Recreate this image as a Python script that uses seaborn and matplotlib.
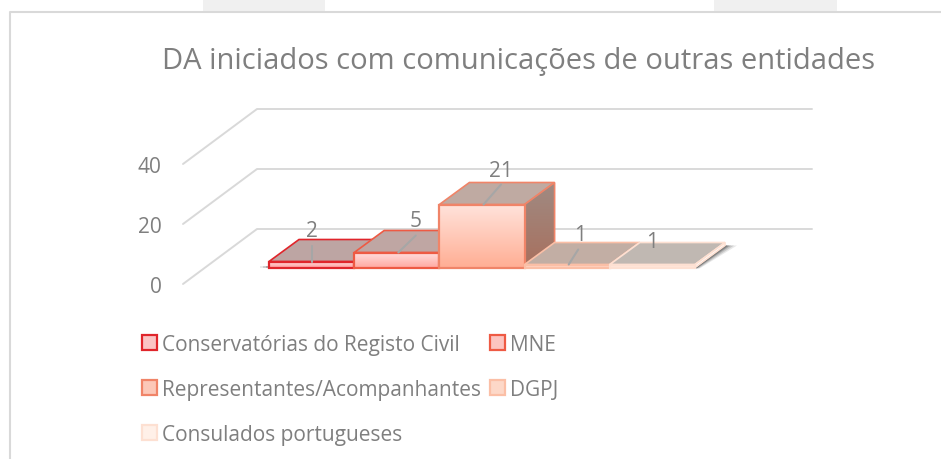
import matplotlib
matplotlib.use("Agg")
import matplotlib.pyplot as plt
import numpy as np
import pandas as pd
import seaborn as sns
from matplotlib.colors import LinearSegmentedColormap
from matplotlib.lines import Line2D
from matplotlib.patches import Patch, Polygon, Rectangle
from matplotlib.transforms import Affine2D

categories = ["Conservatórias do Registo Civil", "MNE", "Representantes/Acompanhantes", "DGPJ", "Consulados portugueses"]
values = [2, 5, 21, 1, 1]
y_ticks = [0, 20, 40]
title = "DA iniciados com comunicações de outras entidades"

W, H = 941, 460
GREY = "#7f7f7f"

# estilo de cada barra
edge_colors = ["#e0252b", "#ee5a44", "#f08468", "#fbbfa6", "#fde0d2"]
front_top = ["#ffd8d8", "#ffdcdc", "#ffe2da", "#ffe6dc", "#fff0e8"]
front_bottom = ["#ff9a9a", "#ffa8a0", "#ffae94", "#ffc0a8", "#ffdccc"]
top_colors = ["#bda5a3", "#bfa6a3", "#bfaaa2", "#c2aea4", "#c0b8b2"]
side_top = ["#a48c8a", "#a48c8a", "#a08a82", "#a89488", "#b8a89e"]
side_bottom = ["#a8645c", "#a8685c", "#a8705e", "#b08a78", "#c8a898"]
legend_fill = ["#fbc4c4", "#fcc4c0", "#fcc8b8", "#fdd8c8", "#fff0e8"]

# deslocamento dos rótulos e das linhas de ligação, em pixels
label_dx = [0, 18.5, 18.5, 12.5, 0]
label_dy = [31, 32, 34, 30, 23]
leader_start = [(0, 0), (1.5, 0), (1.5, 0), (1.5, 0), None]
leader_end = [(0, 16), (19, 17), (19, 20), (11, 15), None]

sns.set_style("white")
plt.rcParams["font.family"] = ["Open Sans", "DejaVu Sans"]

fig = plt.figure(figsize=(W / 100, H / 100), dpi=100)


def pixel_axes(x0, x1, y_bottom, y_top):
    return fig.add_axes([x0 / W, 1 - y_bottom / H, (x1 - x0) / W, (y_bottom - y_top) / H])


# moldura e separadores cinzentos
for tab_x0, tab_x1 in [(203, 325), (714, 837)]:
    fig.add_artist(Rectangle((tab_x0 / W, 1 - 12 / H), (tab_x1 - tab_x0) / W, 12 / H,
                             transform=fig.transFigure, color="#f0f0f0", lw=0))
fig.add_artist(Line2D([9.5 / W, 9.5 / W, 1], [0, 1 - 13 / H, 1 - 13 / H],
                      transform=fig.transFigure, color="#d9d9d9", lw=1.5))

fig.text(518 / W, 1 - 61 / H, title, ha="center", va="center", color=GREY, fontsize=21)

# eixo com a grelha em perspetiva (3 px por unidade)
wall_rise = 55 / 3
ax_wall = pixel_axes(183, 812, 285, 105)
ax_wall.set_xlim(183, 812)
ax_wall.set_ylim(0, 60)
ax_wall.patch.set_alpha(0)
sns.despine(ax=ax_wall, left=True, bottom=True)
for t in y_ticks:
    ax_wall.plot([183, 257, 812], [t, t + wall_rise, t + wall_rise], color="#d9d9d9", lw=1.4, clip_on=False)
ax_wall.set_xticks([])
ax_wall.set_yticks(y_ticks)
ax_wall.tick_params(axis="y", length=0, pad=15.5, labelsize=15, labelcolor=GREY)

# barras
ax = pixel_axes(269, 695, 268.5, 148.5)
df = pd.DataFrame({"categoria": categories, "valor": values})
sns.barplot(data=df, x="categoria", y="valor", hue="categoria", palette=edge_colors,
            width=1, gap=0, legend=False, ax=ax)
ax.set_xlim(-0.5, 4.5)
ax.set_ylim(0, 40)
ax.patch.set_alpha(0)
ax.axis("off")

px_x = 426 / 5
depth_x = 30 / px_x
depth_y = 22 / 3
bars = list(ax.patches)[:len(values)]

# sombra no chão
x_end = bars[-1].get_x() + bars[-1].get_width()
for grow, alpha in zip([12, 9, 6, 4, 2], [0.12, 0.18, 0.24, 0.32, 0.42]):
    ax.add_patch(Polygon([(x_end, -0.3), (x_end + grow * 0.4 / px_x, -0.3),
                          (x_end + depth_x + grow / px_x, depth_y), (x_end + depth_x, depth_y)],
                         closed=True, color="#404040", alpha=alpha, lw=0, zorder=0.5, clip_on=False))
x_start = bars[0].get_x()
for grow, alpha in zip([9, 6, 3], [0.12, 0.2, 0.3]):
    ax.add_patch(Rectangle((x_start - grow / px_x, -0.2), grow / px_x, 0.7, color="#606060", alpha=alpha,
                           lw=0, zorder=0.5, clip_on=False))

for i, bar in enumerate(bars):
    x0 = bar.get_x()
    x1 = x0 + bar.get_width()
    h = bar.get_height()
    z = 2 + i * 0.1

    # face superior e face lateral
    ax.add_patch(Polygon([(x0, h), (x1, h), (x1 + depth_x, h + depth_y), (x0 + depth_x, h + depth_y)],
                         closed=True, facecolor=top_colors[i], edgecolor=edge_colors[i], lw=1.2, zorder=z, clip_on=False))
    side = Polygon([(x1, 0), (x1 + depth_x, depth_y), (x1 + depth_x, h + depth_y), (x1, h)],
                   closed=True, facecolor="none", edgecolor=edge_colors[i], lw=1.2, zorder=z + 0.02, clip_on=False)
    ax.add_patch(side)
    cmap_side = LinearSegmentedColormap.from_list("side", [side_bottom[i], side_top[i]])
    img = ax.imshow(np.linspace(0, 1, 64).reshape(-1, 1), cmap=cmap_side, origin="lower", aspect="auto",
                    extent=(x1, x1 + depth_x, 0, h + depth_y), zorder=z + 0.01)
    img.set_clip_path(side)

    # face da frente com gradiente
    cmap_front = LinearSegmentedColormap.from_list("front", [front_bottom[i], front_top[i]])
    ax.imshow(np.linspace(0, 1, 64).reshape(-1, 1), cmap=cmap_front, origin="lower", aspect="auto",
              extent=(x0, x1, 0, h), zorder=z + 0.03)
    bar.set_facecolor("none")
    bar.set_edgecolor(edge_colors[i])
    bar.set_linewidth(1.6)
    bar.set_zorder(z + 0.04)
    bar.set_clip_on(False)

    xc = x0 + bar.get_width() / 2
    base = ax.transData

    # linha de ligação
    if leader_start[i] is not None:
        sx, sy = leader_start[i]
        ex, ey = leader_end[i]
        ax.plot([xc + sx / px_x, xc + ex / px_x], [h + sy / 3, h + ey / 3], color="#a6a6a6", lw=1.5,
                zorder=5, clip_on=False)

    # rótulo do valor
    ax.text(xc, h, str(values[i]), transform=base + Affine2D().translate(label_dx[i], label_dy[i]),
            ha="center", va="center", color=GREY, fontsize=15, zorder=6, clip_on=False)

ax.set_xlim(-0.5, 4.5)
ax.set_ylim(0, 40)

# legenda
handles = [Patch(facecolor=legend_fill[i], edgecolor=edge_colors[i], lw=1.6) for i in range(len(categories))]
order = [0, 2, 4, 1, 3]
fig.legend([handles[i] for i in order], [categories[i] for i in order], ncols=2, frameon=False,
           loc="upper left", bbox_to_anchor=(123 / W, 1 - 316 / H), fontsize=15, labelcolor=GREY,
           handlelength=0.72, handleheight=0.72, handletextpad=0.23, labelspacing=1.16, columnspacing=0.45,
           borderpad=0.4)

fig.savefig("out.png", dpi=100)
